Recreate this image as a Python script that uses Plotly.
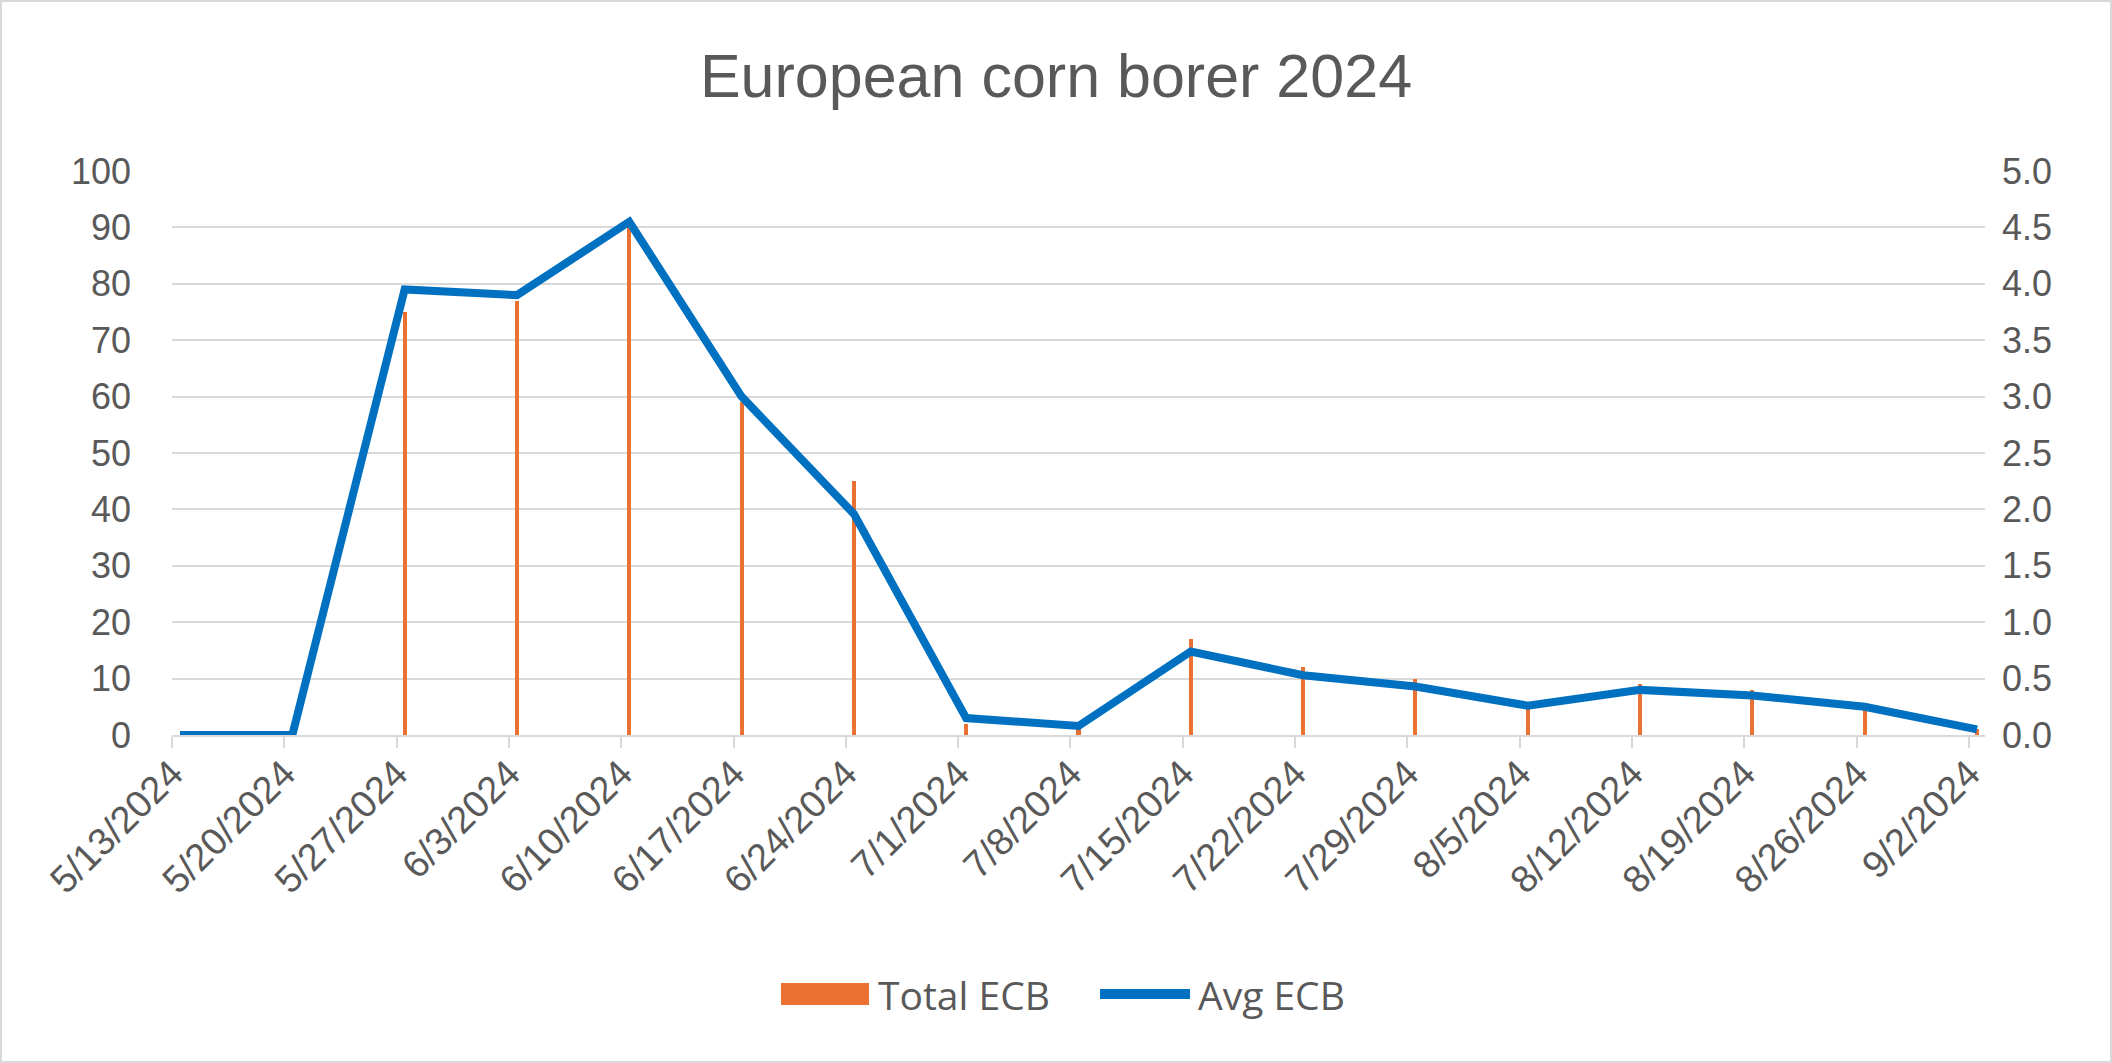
import pandas as pd
import plotly.graph_objects as go

dates = ["5/13/2024", "5/20/2024", "5/27/2024", "6/3/2024", "6/10/2024", "6/17/2024",
         "6/24/2024", "7/1/2024", "7/8/2024", "7/15/2024", "7/22/2024", "7/29/2024",
         "8/5/2024", "8/12/2024", "8/19/2024", "8/26/2024", "9/2/2024"]
total_ecb = [0, 0, 75, 77, 90, 59, 45, 2, 1, 17, 12, 10, 5, 9, 8, 5, 1]
avg_ecb = [0, 0, 3.95, 3.9, 4.55, 3.0, 1.96, 0.15, 0.08, 0.74, 0.53, 0.43, 0.26, 0.4, 0.35, 0.25, 0.05]
series_names = ["Total ECB", "Avg ECB"]

x = pd.to_datetime(dates, format="%m/%d/%Y")
half_day = pd.Timedelta(hours=12)
tickvals = [d - half_day for d in x]

TEXT = "#595959"
GRID = "#D9D9D9"
ORANGE = "#E97132"
BLUE = "#0070C0"
AXFONT = "Liberation Sans"
LEGFONT = "Open Sans"

fig = go.Figure()
fig.add_trace(go.Bar(
    x=x, y=total_ecb, name=series_names[0], marker=dict(color=ORANGE, line=dict(width=0)),
    width=0.25 * 86400000, yaxis="y", showlegend=False,
))
fig.add_trace(go.Scatter(
    x=x, y=avg_ecb, name=series_names[1], mode="lines",
    line=dict(color=BLUE, width=8), yaxis="y2", showlegend=False,
))

W, H = 2112, 1063
L, R, T, B = 172, 127, 171, 328
pw, ph = W - L - R, H - T - B


def px(xp):
    return (xp - L) / pw


def py(yp):
    return (H - B - yp) / ph


fig.update_layout(
    width=W, height=H,
    margin=dict(l=L, r=R, t=T, b=B),
    paper_bgcolor="white", plot_bgcolor="white",
    font=dict(family=AXFONT, color=TEXT, size=36),
    title=dict(text="European corn borer 2024", x=0.5, xanchor="center", y=1 - 76 / H,
               yanchor="middle", font=dict(size=61, color=TEXT, family=AXFONT)),
    xaxis=dict(
        type="date",
        range=[x[0] - half_day, x[-1] + half_day],
        tickmode="array", tickvals=tickvals, ticktext=dates, tickangle=-45,
        showgrid=False, showline=True, linecolor=GRID, linewidth=2,
        ticks="outside", ticklen=11, tickcolor=GRID, tickwidth=2, ticklabelstandoff=-12,
        tickfont=dict(size=38, color=TEXT, family=AXFONT), zeroline=False,
    ),
    yaxis=dict(
        range=[0, 100], dtick=10, showgrid=True, gridcolor=GRID, gridwidth=2,
        zeroline=False, showline=False, ticks="", ticklabelstandoff=40,
        tickfont=dict(size=36, color=TEXT, family=AXFONT),
    ),
    yaxis2=dict(
        range=[0, 5], dtick=0.5, tickformat=".1f", overlaying="y", side="right",
        showgrid=False, zeroline=False, showline=False, ticks="", ticklabelstandoff=16,
        tickfont=dict(size=36, color=TEXT, family=AXFONT),
    ),
    bargap=0,
    showlegend=False,
)

# chart border
fig.add_shape(type="rect", xref="paper", yref="paper",
              x0=px(1), x1=px(W - 1), y0=py(H - 1), y1=py(1),
              line=dict(color=GRID, width=2), fillcolor="rgba(0,0,0,0)", layer="below")

# legend (drawn manually to match the reference swatches)
leg_y = 994
fig.add_shape(type="rect", xref="paper", yref="paper",
              x0=px(781), x1=px(869), y0=py(leg_y + 11), y1=py(leg_y - 11),
              line=dict(width=0), fillcolor=ORANGE)
fig.add_annotation(xref="paper", yref="paper", x=px(876), y=py(leg_y), text=series_names[0],
                   showarrow=False, xanchor="left", yanchor="middle",
                   font=dict(family=LEGFONT, size=39, color=TEXT))
fig.add_shape(type="line", xref="paper", yref="paper",
              x0=px(1100), x1=px(1190), y0=py(leg_y), y1=py(leg_y),
              line=dict(color=BLUE, width=10))
fig.add_annotation(xref="paper", yref="paper", x=px(1196), y=py(leg_y), text=series_names[1],
                   showarrow=False, xanchor="left", yanchor="middle",
                   font=dict(family=LEGFONT, size=39, color=TEXT))

fig.write_html("out.html")
